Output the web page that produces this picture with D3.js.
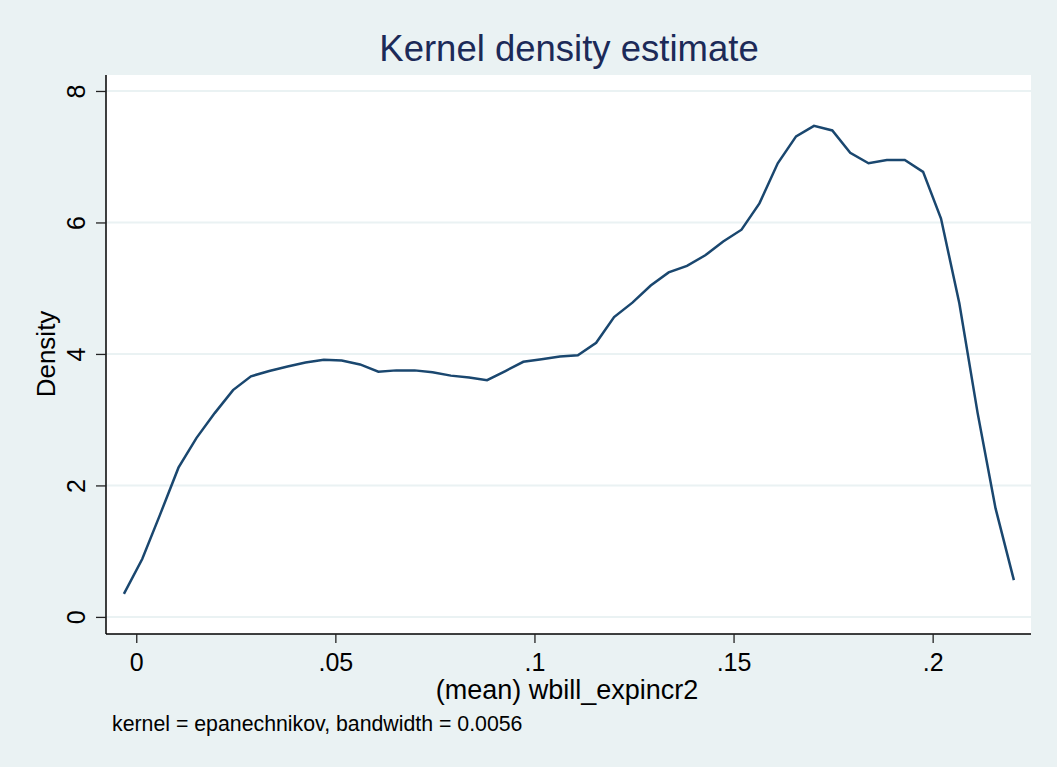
<!DOCTYPE html>
<html>
<head>
<meta charset="utf-8">
<script src="https://cdn.jsdelivr.net/npm/d3@7"></script>
<style>
  body { margin: 0; background: #eaf2f3; }
  text { font-family: Arial, "Liberation Sans", sans-serif; }
</style>
</head>
<body>
<script>
// kdensity output, 50 points
var xVals = [-0.0031, 0.0015, 0.0060, 0.0106, 0.0151, 0.0197, 0.0243, 0.0288, 0.0334, 0.0380,
             0.0425, 0.0471, 0.0516, 0.0562, 0.0608, 0.0653, 0.0699, 0.0744, 0.0790, 0.0836,
             0.0881, 0.0927, 0.0972, 0.1018, 0.1064, 0.1109, 0.1155, 0.1200, 0.1246, 0.1292,
             0.1337, 0.1383, 0.1429, 0.1474, 0.1520, 0.1565, 0.1611, 0.1657, 0.1702, 0.1748,
             0.1793, 0.1839, 0.1885, 0.1930, 0.1976, 0.2021, 0.2067, 0.2113, 0.2158, 0.2204];
var density = [0.35, 0.88, 1.56, 2.27, 2.72, 3.10, 3.45, 3.66, 3.74, 3.81,
               3.87, 3.91, 3.90, 3.84, 3.73, 3.75, 3.75, 3.72, 3.67, 3.64,
               3.60, 3.74, 3.88, 3.92, 3.96, 3.98, 4.17, 4.56, 4.78, 5.04,
               5.24, 5.34, 5.50, 5.71, 5.89, 6.29, 6.90, 7.31, 7.47, 7.40,
               7.06, 6.90, 6.95, 6.95, 6.77, 6.06, 4.77, 3.10, 1.65, 0.56];

var xTicks = [0, 0.05, 0.1, 0.15, 0.2];
var xTickLabels = ["0", ".05", ".1", ".15", ".2"];
var yTicks = [0, 2, 4, 6, 8];

var titleText = "Kernel density estimate";
var xTitle = "(mean) wbill_expincr2";
var yTitle = "Density";
var noteText = "kernel = epanechnikov, bandwidth = 0.0056";

var width = 1057, height = 767;
var plot = {left: 106, right: 1031, top: 75, bottom: 634};

var svg = d3.select("body").append("svg")
    .attr("width", width)
    .attr("height", height);

svg.append("rect")
    .attr("width", width).attr("height", height)
    .attr("fill", "#eaf2f3");

svg.append("rect")
    .attr("x", plot.left).attr("y", plot.top)
    .attr("width", plot.right - plot.left)
    .attr("height", plot.bottom - plot.top)
    .attr("fill", "#fff");

var x = d3.scaleLinear().domain([-0.0076, 0.2247]).range([plot.left, plot.right]);
var y = d3.scaleLinear().domain([-0.26, 8.243]).range([plot.bottom, plot.top]);

// grid lines
svg.append("g")
  .selectAll("line")
  .data(yTicks)
  .enter().append("line")
    .attr("x1", plot.left).attr("x2", plot.right)
    .attr("y1", function(d) { return y(d); })
    .attr("y2", function(d) { return y(d); })
    .attr("stroke", "#eaf2f3")
    .attr("stroke-width", 2);

// axes
var xAxis = svg.append("g")
    .attr("transform", "translate(0," + plot.bottom + ")")
    .call(d3.axisBottom(x)
        .tickValues(xTicks)
        .tickFormat(function(d, i) { return xTickLabels[i]; })
        .tickSizeInner(9).tickSizeOuter(0).tickPadding(10));
xAxis.select(".domain").attr("d", "M" + plot.left + ",0H" + plot.right)
    .attr("stroke", "#000").attr("stroke-width", 1.5);
xAxis.selectAll(".tick line").attr("stroke", "#222").attr("stroke-width", 1.3);
xAxis.selectAll(".tick text")
    .attr("font-size", 25)
    .attr("font-family", "Arial, 'Liberation Sans', sans-serif")
    .attr("fill", "#000");

var yAxis = svg.append("g")
    .attr("transform", "translate(" + plot.left + ",0)")
    .call(d3.axisLeft(y)
        .tickValues(yTicks)
        .tickFormat(d3.format("d"))
        .tickSizeInner(10).tickSizeOuter(0).tickPadding(0));
yAxis.select(".domain").attr("d", "M0," + plot.top + "V" + plot.bottom)
    .attr("stroke", "#000").attr("stroke-width", 1.5);
yAxis.selectAll(".tick line").attr("stroke", "#222").attr("stroke-width", 1.3);
yAxis.selectAll(".tick text")
    .attr("x", null).attr("dy", null)
    .attr("transform", "translate(-21,0) rotate(-90)")
    .attr("text-anchor", "middle")
    .attr("font-size", 25)
    .attr("font-family", "Arial, 'Liberation Sans', sans-serif")
    .attr("fill", "#000");

// density curve
var line = d3.line()
    .x(function(d, i) { return x(xVals[i]); })
    .y(function(d) { return y(d); });

svg.append("path")
    .datum(density)
    .attr("fill", "none")
    .attr("stroke", "#1a476f")
    .attr("stroke-width", 2.5)
    .attr("stroke-linejoin", "miter")
    .attr("d", line);

// titles
svg.append("text")
    .attr("x", 569).attr("y", 61)
    .attr("text-anchor", "middle")
    .attr("font-size", 36.5)
    .attr("fill", "#1c2a58")
    .text(titleText);

svg.append("text")
    .attr("x", 567).attr("y", 699)
    .attr("text-anchor", "middle")
    .attr("font-size", 27)
    .attr("fill", "#000")
    .text(xTitle);

svg.append("text")
    .attr("transform", "translate(55,354) rotate(-90)")
    .attr("text-anchor", "middle")
    .attr("font-size", 26)
    .attr("fill", "#000")
    .text(yTitle);

svg.append("text")
    .attr("x", 112).attr("y", 731)
    .attr("font-size", 21.3)
    .attr("fill", "#000")
    .text(noteText);
</script>
</body>
</html>
